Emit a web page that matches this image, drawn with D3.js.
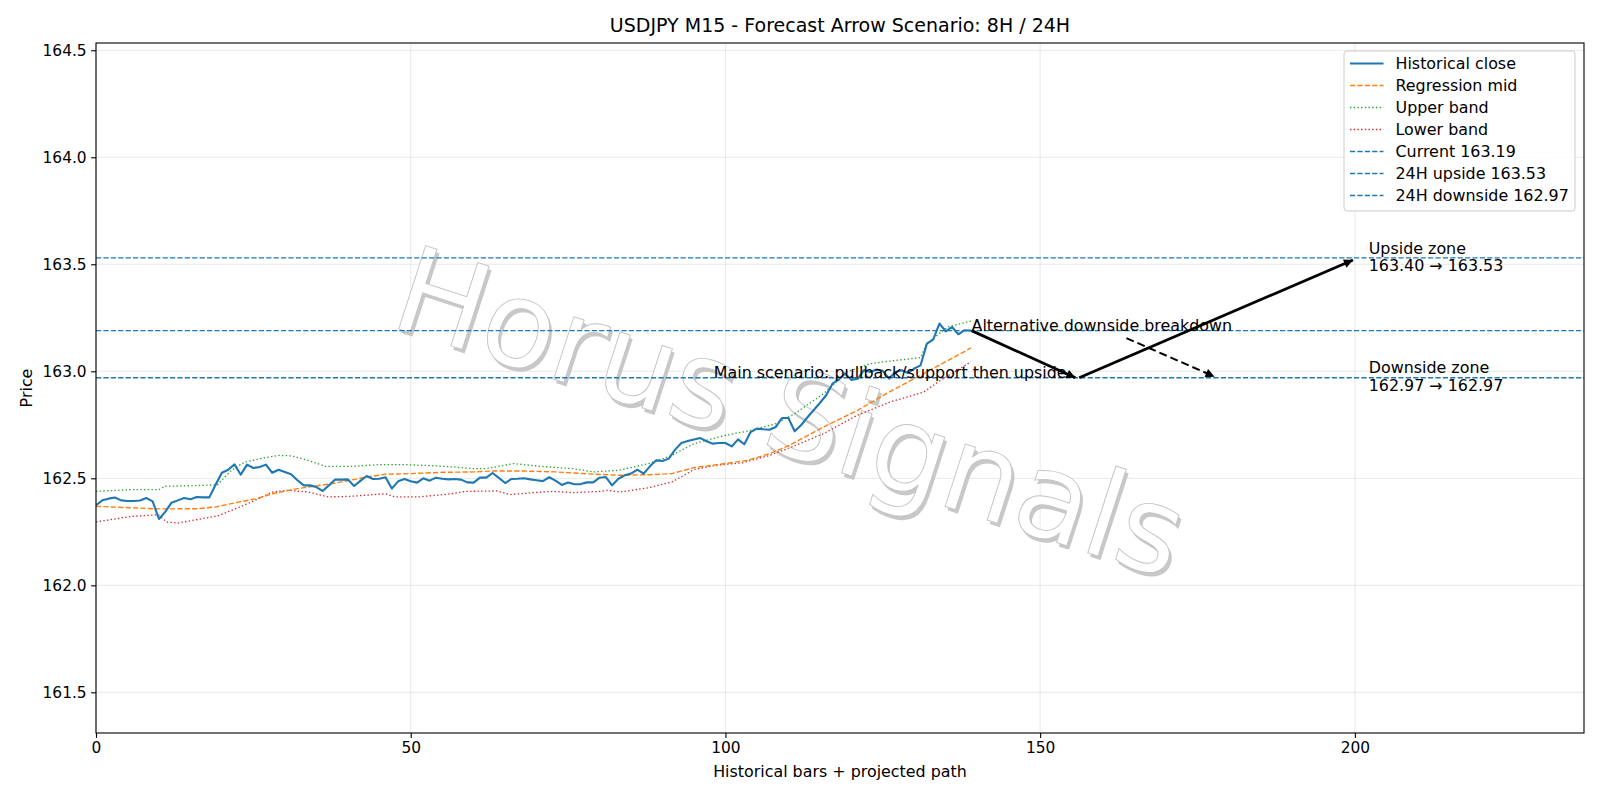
<!DOCTYPE html>
<html>
<head>
<meta charset="utf-8">
<script src="https://cdn.jsdelivr.net/npm/d3@7/dist/d3.min.js"></script>
<style>
  body { margin: 0; background: #fff; }
  svg text { font-family: "DejaVu Sans", sans-serif; fill: #000; }
</style>
</head>
<body>
<svg id="chart" width="1600" height="800"></svg>
<script>
// historical close, one value per M15 bar (bar 0..139)
var histClose = [
  162.374, 162.397, 162.405, 162.410, 162.397, 162.394, 162.394, 162.396, 162.408, 162.392,
  162.310, 162.343, 162.386, 162.397, 162.408, 162.402, 162.413, 162.411, 162.411, 162.470,
  162.526, 162.540, 162.565, 162.517, 162.564, 162.548, 162.553, 162.564, 162.526, 162.540,
  162.530, 162.519, 162.491, 162.467, 162.467, 162.459, 162.441, 162.467, 162.494, 162.494,
  162.495, 162.464, 162.488, 162.511, 162.497, 162.498, 162.505, 162.452, 162.486, 162.497,
  162.486, 162.480, 162.500, 162.489, 162.503, 162.498, 162.495, 162.497, 162.494, 162.481,
  162.480, 162.503, 162.503, 162.525, 162.502, 162.478, 162.497, 162.498, 162.500, 162.495,
  162.491, 162.487, 162.505, 162.489, 162.469, 162.480, 162.472, 162.473, 162.481, 162.481,
  162.503, 162.506, 162.467, 162.498, 162.514, 162.522, 162.541, 162.522, 162.556, 162.584,
  162.581, 162.592, 162.634, 162.665, 162.674, 162.681, 162.688, 162.673, 162.662, 162.665,
  162.665, 162.649, 162.682, 162.659, 162.716, 162.732, 162.729, 162.727, 162.740, 162.782,
  162.782, 162.720, 162.748, 162.784, 162.818, 162.852, 162.888, 162.942, 162.961, 162.990,
  162.960, 162.965, 163.005, 162.997, 163.008, 163.002, 162.966, 162.997, 163.005, 162.992,
  163.013, 163.028, 163.129, 163.148, 163.223, 163.187, 163.207, 163.173, 163.192, 163.190
]

// regression mid and bands, read as [bar, price]
var regMid = [
  [0, 162.369], [10, 162.357], [16, 162.358], [19, 162.366], [22, 162.385], [25.5, 162.405],
  [28, 162.428], [32, 162.452], [37.5, 162.475], [43, 162.506], [46, 162.519], [50, 162.522],
  [55, 162.528], [60, 162.530], [63, 162.534], [68, 162.534], [73, 162.530], [77.5, 162.522],
  [83, 162.514], [88, 162.517], [91.5, 162.522], [95, 162.550], [100, 162.569], [103.5, 162.584],
  [107, 162.615], [110, 162.652], [115.5, 162.738], [121, 162.818], [126, 162.903],
  [131.5, 162.989], [139, 163.109]
]
var upperBand = [
  [0, 162.439], [5.5, 162.447], [10, 162.447], [11, 162.463], [16, 162.466], [19.3, 162.470],
  [21.5, 162.537], [23.6, 162.576], [26.8, 162.596], [29, 162.607], [31, 162.605], [32.8, 162.592],
  [36.5, 162.556], [40.8, 162.556], [45, 162.564], [49.2, 162.564], [55, 162.557], [60, 162.545],
  [62, 162.545], [66.3, 162.569], [70.6, 162.556], [75.8, 162.545], [79, 162.530], [83, 162.537],
  [87.8, 162.569], [91.5, 162.607], [95, 162.662], [100, 162.701], [103.6, 162.721], [108, 162.755],
  [111, 162.802], [115.6, 162.896], [119.3, 162.997], [123, 163.036], [126.2, 163.048],
  [131, 163.064], [132, 163.130], [135.3, 163.207], [139, 163.235]
]
var lowerBand = [
  [0, 162.296], [5.6, 162.322], [9.9, 162.330], [11.2, 162.296], [13, 162.291], [16.2, 162.308],
  [19.3, 162.324], [21.5, 162.350], [24.7, 162.389], [28, 162.436], [30.6, 162.444], [33.7, 162.436],
  [36.9, 162.413], [40.6, 162.416], [46, 162.428], [47.5, 162.413], [51.2, 162.413], [55.6, 162.425],
  [58.9, 162.439], [63.7, 162.441], [65.8, 162.424], [69.5, 162.433], [72.7, 162.439], [75.8, 162.433],
  [80.1, 162.439], [81.2, 162.444], [83.3, 162.436], [87.8, 162.456], [91.5, 162.483], [95, 162.541],
  [98.4, 162.561], [102.6, 162.572], [107, 162.607], [110.5, 162.646], [115.6, 162.709],
  [120.9, 162.794], [126.2, 162.857], [131.5, 162.903], [134.2, 162.958], [139, 163.044]
]

var levels = [
  { key: 'current', label: 'Current 163.19', value: 163.19 },
  { key: 'up', label: '24H upside 163.53', value: 163.53 },
  { key: 'down', label: '24H downside 162.97', value: 162.97 }
]

// projected path arrows [from, to]
var mainArrows = [
  [[139.1, 163.19], [155.6, 162.97]],
  [[156.2, 162.97], [199.7, 163.52]]
]
var altArrow = [[163.7, 163.155], [177.7, 162.975]]

var zones = [
  { lines: ['Upside zone', '163.40 \u2192 163.53'], x: 202.2, y: 163.53 },
  { lines: ['Downside zone', '162.97 \u2192 162.97'], x: 202.2, y: 162.97 }
]

var xTicks = [0, 50, 100, 150, 200]
var yTicks = [161.5, 162.0, 162.5, 163.0, 163.5, 164.0, 164.5]

var C0 = '#1f77b4', C1 = '#ff7f0e', C2 = '#2ca02c', C3 = '#d62728'
var fs = '15.9px'

var svg = d3.select('#chart')
var pL = 96, pR = 1584, pT = 43, pB = 733

var x = d3.scaleLinear().domain([0, 236.4]).range([pL, pR])
var y = d3.scaleLinear().domain([161.31, 164.534]).range([pB, pT])

// markers
var defs = svg.append('defs')
defs.append('clipPath').attr('id', 'plot')
  .append('rect').attr('x', pL).attr('y', pT)
  .attr('width', pR - pL).attr('height', pB - pT)
defs.append('marker')
  .attr('id', 'head')
  .attr('viewBox', '0 0 10 10')
  .attr('refX', 10).attr('refY', 5)
  .attr('markerWidth', 12).attr('markerHeight', 9)
  .attr('markerUnits', 'userSpaceOnUse')
  .attr('orient', 'auto')
  .append('path').attr('d', 'M0,0 L10,5 L0,10 z').attr('fill', '#000')

// grid
var grid = svg.append('g').attr('stroke', '#b0b0b0').attr('stroke-opacity', 0.35).attr('stroke-width', 0.8)
grid.selectAll('.gx').data(xTicks).enter().append('line')
  .attr('x1', function (d) { return x(d) }).attr('x2', function (d) { return x(d) })
  .attr('y1', pT).attr('y2', pB)
grid.selectAll('.gy').data(yTicks).enter().append('line')
  .attr('y1', function (d) { return y(d) }).attr('y2', function (d) { return y(d) })
  .attr('x1', pL).attr('x2', pR)

// watermark
var wm = svg.append('g')
  .attr('transform', 'translate(790,415) rotate(18)')
  .style('font-size', '120px')
  .attr('text-anchor', 'middle')
wm.append('text').text('Horus Signals')
  .attr('x', 3.5).attr('y', 42)
  .style('fill', '#c8c8c8')
wm.append('text').text('Horus Signals')
  .attr('x', 0).attr('y', 39)
  .style('fill', '#fff')
  .attr('stroke', '#c4c4c4').attr('stroke-width', 0.9)

var plot = svg.append('g').attr('clip-path', 'url(#plot)')

// horizontal levels
plot.selectAll('.level').data(levels).enter().append('line')
  .attr('x1', pL).attr('x2', pR)
  .attr('y1', function (d) { return y(d.value) })
  .attr('y2', function (d) { return y(d.value) })
  .attr('stroke', C0).attr('stroke-width', 1.4)
  .attr('stroke-dasharray', '5.2,2.2')

var line = d3.line()
  .x(function (d) { return x(d[0]) })
  .y(function (d) { return y(d[1]) })

plot.append('path').datum(upperBand).attr('d', line)
  .attr('fill', 'none').attr('stroke', C2).attr('stroke-width', 1.3)
  .attr('stroke-dasharray', '1.4,2.3')
plot.append('path').datum(lowerBand).attr('d', line)
  .attr('fill', 'none').attr('stroke', C3).attr('stroke-width', 1.3)
  .attr('stroke-dasharray', '1.4,2.3')
plot.append('path').datum(regMid).attr('d', line)
  .attr('fill', 'none').attr('stroke', C1).attr('stroke-width', 1.4)
  .attr('stroke-dasharray', '5.2,2.2')
plot.append('path').datum(histClose.map(function (v, i) { return [i, v] })).attr('d', line)
  .attr('fill', 'none').attr('stroke', C0).attr('stroke-width', 2.1)
  .attr('stroke-linejoin', 'round')

// scenario arrows
plot.selectAll('.arrow').data(mainArrows).enter().append('line')
  .attr('x1', function (d) { return x(d[0][0]) }).attr('y1', function (d) { return y(d[0][1]) })
  .attr('x2', function (d) { return x(d[1][0]) }).attr('y2', function (d) { return y(d[1][1]) })
  .attr('stroke', '#000').attr('stroke-width', 2.8)
  .attr('marker-end', 'url(#head)')
plot.append('line')
  .attr('x1', x(altArrow[0][0])).attr('y1', y(altArrow[0][1]))
  .attr('x2', x(altArrow[1][0])).attr('y2', y(altArrow[1][1]))
  .attr('stroke', '#000').attr('stroke-width', 2)
  .attr('stroke-dasharray', '8,4')
  .attr('marker-end', 'url(#head)')

// annotations
svg.append('text').attr('x', x(154.2)).attr('y', y(162.97))
  .attr('text-anchor', 'end').style('font-size', fs)
  .text('Main scenario: pullback/support then upside')
svg.append('text').attr('x', x(139.1)).attr('y', y(163.19))
  .style('font-size', fs)
  .text('Alternative downside breakdown')
zones.forEach(function (z) {
  var t = svg.append('text').attr('x', x(z.x)).attr('y', y(z.y) - 4.3)
    .style('font-size', fs)
  t.selectAll('tspan').data(z.lines).enter().append('tspan')
    .attr('x', x(z.x))
    .attr('dy', function (d, i) { return i === 0 ? 0 : 17.5 })
    .text(function (d) { return d })
})

// frame
svg.append('rect').attr('x', pL).attr('y', pT)
  .attr('width', pR - pL).attr('height', pB - pT)
  .attr('fill', 'none').attr('stroke', '#000').attr('stroke-width', 1.1)

// axes
var xAxis = svg.append('g').attr('transform', 'translate(0,' + pB + ')')
  .call(d3.axisBottom(x).tickValues(xTicks).tickSize(4.9).tickPadding(4.5).tickFormat(d3.format('d')))
var yAxis = svg.append('g').attr('transform', 'translate(' + pL + ',0)')
  .call(d3.axisLeft(y).tickValues(yTicks).tickSize(4.9).tickPadding(4.5).tickFormat(d3.format('.1f')))
;[xAxis, yAxis].forEach(function (a) {
  a.select('.domain').remove()
  a.selectAll('.tick line').attr('stroke', '#000').attr('stroke-width', 1.1)
  a.selectAll('.tick text').style('font-family', '"DejaVu Sans", sans-serif')
    .style('font-size', '15.4px').attr('fill', '#000')
})

// titles
svg.append('text').attr('x', (pL + pR) / 2).attr('y', 32)
  .attr('text-anchor', 'middle').style('font-size', '19px')
  .text('USDJPY M15 - Forecast Arrow Scenario: 8H / 24H')
svg.append('text').attr('x', (pL + pR) / 2).attr('y', 777)
  .attr('text-anchor', 'middle').style('font-size', fs)
  .text('Historical bars + projected path')
svg.append('text').attr('transform', 'translate(32,' + (pT + pB) / 2 + ') rotate(-90)')
  .attr('text-anchor', 'middle').style('font-size', fs)
  .text('Price')

// legend
var legendItems = [
  { label: 'Historical close', color: C0, width: 2.1, dash: null },
  { label: 'Regression mid', color: C1, width: 1.4, dash: '5.2,2.2' },
  { label: 'Upper band', color: C2, width: 1.3, dash: '1.4,2.3' },
  { label: 'Lower band', color: C3, width: 1.3, dash: '1.4,2.3' }
].concat(levels.map(function (d) {
  return { label: d.label, color: C0, width: 1.4, dash: '5.2,2.2' }
}))

var lg = svg.append('g').attr('transform', 'translate(1344,51)')
lg.append('rect').attr('width', 231).attr('height', 160).attr('rx', 3)
  .attr('fill', '#fff').attr('fill-opacity', 0.8)
  .attr('stroke', '#ccc').attr('stroke-width', 1)
var rows = lg.selectAll('.row').data(legendItems).enter().append('g')
  .attr('transform', function (d, i) { return 'translate(0,' + (12.5 + i * 22) + ')' })
rows.append('line').attr('x1', 6).attr('x2', 39.5)
  .attr('stroke', function (d) { return d.color })
  .attr('stroke-width', function (d) { return d.width })
  .attr('stroke-dasharray', function (d) { return d.dash })
rows.append('text').attr('x', 51.5).attr('dy', '0.35em')
  .style('font-size', fs)
  .text(function (d) { return d.label })
</script>
</body>
</html>
